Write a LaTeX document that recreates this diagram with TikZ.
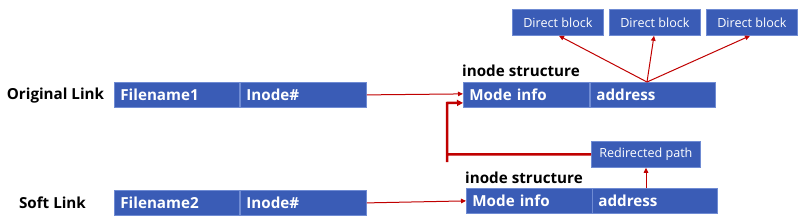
\documentclass[tikz,border=0pt]{standalone}
\usepackage{fontspec}
\setmainfont{Open Sans}
\usetikzlibrary{arrows.meta,calc}
\definecolor{boxblue}{HTML}{3A5CB6}
\definecolor{boxedge}{HTML}{6F8BD3}
\definecolor{linkred}{HTML}{C00000}
\tikzset{
  cell/.style={draw=boxedge, line width=0.8pt, fill=boxblue, text=white, anchor=north west,
    font=\bfseries\fontsize{15.2}{15.2}\selectfont, minimum height=25pt, inner xsep=6pt, align=left},
  smallbox/.style={draw=boxedge, line width=0.8pt, fill=boxblue, text=white, anchor=north west,
    font=\fontsize{12.6}{12.6}\selectfont, minimum height=26pt, inner xsep=2pt, align=center},
  lbl/.style={font=\bfseries\fontsize{15.2}{15.2}\selectfont, text=black},
  thinarrow/.style={draw=linkred, line width=1pt, -{Triangle[length=5pt,width=4.5pt]}},
  thickarrow/.style={draw=linkred, line width=2.5pt, -{Triangle[length=6pt,width=6pt]}}
}
\begin{document}
\begin{tikzpicture}[x=1pt,y=-1pt]
\useasboundingbox (0,0) rectangle (804,222);
% left labels
\node[lbl] (ol) at (55.5,96) {Original Link};
\node[lbl] (sl) at (52.5,203) {Soft Link};
% original link row
\node[cell, text width=113pt] (f1) at (114,82) {Filename1};
\node[cell, text width=114pt] (i1) at (240,82) {Inode\#};
% soft link row
\node[cell, text width=113pt] (f2) at (114,190) {Filename2};
\node[cell, text width=114pt] (i2) at (240,190) {Inode\#};
% top inode structure
\node[lbl, anchor=south west, inner xsep=0pt] (t1) at (462,80) {inode structure};
\node[cell, text width=114pt] (m1) at (463,82) {Mode info};
\node[cell, text width=113pt] (a1) at (590,82) {address};
% direct blocks
\node[smallbox, minimum width=91pt] (d1) at (512,9) {Direct block};
\node[smallbox, minimum width=91pt] (d2) at (609,9) {Direct block};
\node[smallbox, minimum width=91pt] (d3) at (706,9) {Direct block};
% bottom inode structure
\node[lbl, anchor=south west, inner xsep=0pt] (t2) at (465,187) {inode structure};
\node[cell, text width=114pt] (m2) at (466,188) {Mode info};
\node[cell, text width=113pt] (a2) at (592,188) {address};
% redirected path
\node[smallbox, minimum width=109pt] (rp) at (591,141) {Redirected path};
% connectors
\coordinate (ap) at ($(a1.north west)+(57,0)$);
\draw[thinarrow] (ap) -- ($(d1.south west)+(47,0)$);
\draw[thinarrow] (ap) -- ($(d2.south west)+(45,0)$);
\draw[thinarrow] (ap) -- ($(d3.south west)+(44,0)$);
\draw[thinarrow] (i1.east) -- ([yshift=1pt]m1.west);
\draw[thinarrow] (i2.east) -- (m2.west);
\draw[thinarrow] ($(a2.north west)+(54,0)$) -- ($(rp.south west)+(55,0)$);
\coordinate (turn) at ($(m1.west)+(-16,0)$);
\draw[thickarrow] (rp.west) -| (turn |- 0,162) -- (turn |- 0,103) -- ([yshift=-8pt]m1.west);
\end{tikzpicture}
\end{document}
